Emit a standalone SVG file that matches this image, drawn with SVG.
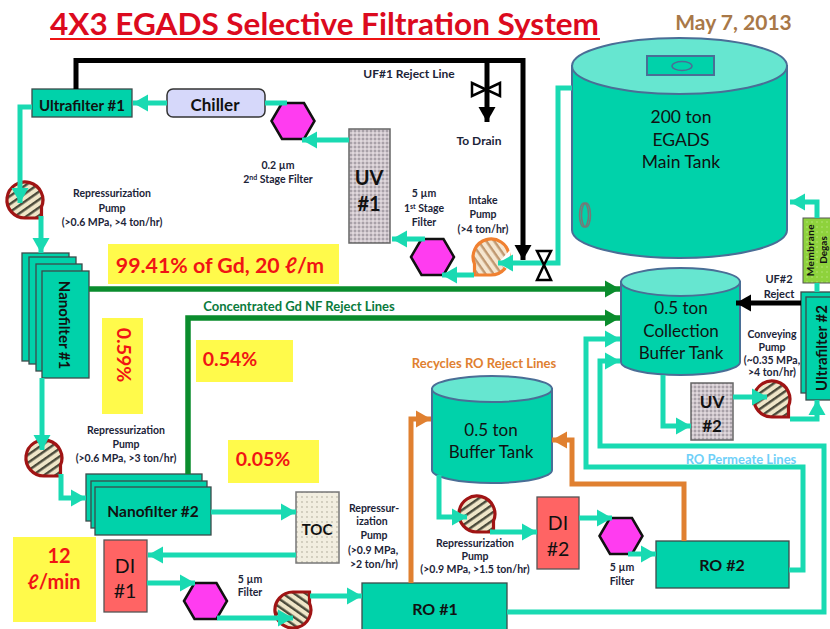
<svg xmlns="http://www.w3.org/2000/svg" width="830" height="629" viewBox="0 0 830 629">
<style>
text{font-family:Lato,"Liberation Sans",sans-serif;text-anchor:middle;fill:#111}
.b{font-weight:700}
.s{font-size:10.5px;font-weight:700;fill:#1c2438}
.m{font-size:12px;font-weight:700;fill:#1c2438}
.r{font-weight:700;fill:#f01414;font-size:19.5px}
.t{font-size:17px}
.box{fill:#00d2aa;stroke:#3c4a4a;stroke-width:1.3}
.tank{fill:#00d2aa;stroke:#4a6e96;stroke-width:2}
.top{fill:#66e6d0;stroke:#4a6e96;stroke-width:2}
.y{fill:#fffa4b}
.p{fill:none;stroke:#19dab2;stroke-width:5}
.g{fill:none;stroke:#0a8c2d;stroke-width:5.5}
.o{fill:none;stroke:#e08030;stroke-width:5}
.k{fill:none;stroke:#000;stroke-width:5}
.hex{fill:#ff3cf0;stroke:#111;stroke-width:2.5}
.uv{fill:url(#dots);stroke:#666;stroke-width:1.5}
.toc{fill:url(#dots2);stroke:#777;stroke-width:1.5}
.pump{fill:url(#hatch);stroke:#a01414;stroke-width:3.2}
.pumpo{fill:url(#hatcho);stroke:#f08030;stroke-width:3.2}
.di{fill:#ff6464;stroke:#555;stroke-width:1.3}
.valve{fill:#fff;stroke:#000;stroke-width:2.5}
</style>
<defs>
<pattern id="dots" width="4" height="4" patternUnits="userSpaceOnUse"><rect width="4" height="4" fill="#cfc6cc"/><circle cx="1" cy="1" r=".8" fill="#f4f0f2"/><circle cx="3" cy="3" r=".8" fill="#77727a"/></pattern>
<pattern id="dots2" width="5" height="5" patternUnits="userSpaceOnUse"><rect width="5" height="5" fill="#f2eee0"/><circle cx="2" cy="2" r=".9" fill="#c4c0b0"/></pattern>
<pattern id="hatch" width="6.5" height="6.5" patternUnits="userSpaceOnUse" patternTransform="rotate(-35)"><rect width="6.5" height="6.5" fill="#efe6c8"/><rect width="6.5" height="2.4" fill="#4a4a3a"/></pattern>
<pattern id="hatcho" width="6.5" height="6.5" patternUnits="userSpaceOnUse" patternTransform="rotate(-55)"><rect width="6.5" height="6.5" fill="#f5e6d0"/><rect width="6.5" height="2.4" fill="#c09870"/></pattern>
<pattern id="green" width="5" height="5" patternUnits="userSpaceOnUse"><rect width="5" height="5" fill="#8ed23c"/><circle cx="2" cy="2" r=".8" fill="#b4e67a"/></pattern>
<marker id="aT" markerUnits="userSpaceOnUse" markerWidth="16" markerHeight="18" refX="15" refY="9" orient="auto"><path d="M0 0.5L15 9L0 17.5Z" fill="#19dab2"/></marker>
<marker id="aG" markerUnits="userSpaceOnUse" markerWidth="16" markerHeight="18" refX="15" refY="9" orient="auto"><path d="M0 0.5L15 9L0 17.5Z" fill="#0a8c2d"/></marker>
<marker id="aO" markerUnits="userSpaceOnUse" markerWidth="16" markerHeight="18" refX="15" refY="9" orient="auto"><path d="M0 0.5L15 9L0 17.5Z" fill="#e08030"/></marker>
<marker id="aK" markerUnits="userSpaceOnUse" markerWidth="16" markerHeight="18" refX="15" refY="9" orient="auto"><path d="M0 0.5L15 9L0 17.5Z" fill="#000"/></marker>
<path id="pumpShape" d="M0 18A18 18 0 1 1 16.5 7L16.5 18Z"/>
<path id="hexShape" d="M-21.5 0L-11 -18H11L21.5 0L11 18H-11Z"/>
</defs>
<rect width="830" height="629" fill="#fff"/>
<g id="title">
<text x="50" y="35" class="b" style="font-size:31px;fill:#dc0a1e;text-anchor:start" textLength="549" lengthAdjust="spacingAndGlyphs">4X3 EGADS Selective Filtration System</text>
<rect x="50" y="38" width="550" height="2" fill="#ee1414"/>
<text x="733.500" y="30" class="b" style="font-size:21px;fill:#a87848">May 7, 2013</text>
</g>
<g id="labels-yellow">
<rect class="y" x="108" y="244" width="231" height="40"/><text class="r" x="220" y="273" style="font-size:21.3px">99.41% of Gd, 20 ℓ/m</text>
<rect class="y" x="102" y="318" width="41" height="96"/><text class="r" transform="translate(117,355) rotate(90)">0.59%</text>
<rect class="y" x="196" y="340" width="97" height="42"/><text class="r" x="230" y="366">0.54%</text>
<rect class="y" x="228" y="440" width="91" height="43"/><text class="r" x="263" y="466">0.05%</text>
<rect class="y" x="13" y="537" width="83" height="85"/><text class="r" x="59" y="563" style="font-size:20px">12</text><text class="r" x="54" y="589" style="font-size:20px">ℓ/min</text>
</g>
<g id="main-tank">
<path class="tank" d="M572 66V230A107.500 28 0 0 0 787 230V66Z"/>
<ellipse class="top" cx="679.500" cy="66" rx="107.500" ry="28"/>
<rect x="647" y="56" width="67" height="19" fill="#00d2aa" stroke="#4a6e96" stroke-width="2"/>
<ellipse cx="682" cy="66" rx="10" ry="4.500" fill="none" stroke="#4a6e96" stroke-width="1.500"/>
<ellipse cx="586" cy="215" rx="4.500" ry="12" fill="none" stroke="#777" stroke-width="1.500"/>
<ellipse cx="584" cy="215" rx="4.500" ry="12" fill="none" stroke="#777" stroke-width="1.500"/>
<text x="681" y="123" class="t" style="font-size:17.500px">200 ton</text><text x="681" y="146" class="t" style="font-size:17.500px">EGADS</text><text x="681" y="168" class="t" style="font-size:17.500px">Main Tank</text>
</g>
<g id="collection-tank">
<path class="tank" d="M621 282V362A59.500 13 0 0 0 740 362V282Z"/>
<ellipse class="top" cx="680.500" cy="282" rx="59.500" ry="14"/>
<text x="681" y="314" class="t">0.5 ton</text><text x="681" y="337" class="t">Collection</text><text x="681" y="359" class="t">Buffer Tank</text>
</g>
<g id="buffer-tank">
<path class="tank" d="M432 389V470A60 13 0 0 0 552 470V389Z"/>
<ellipse class="top" cx="492" cy="389" rx="60" ry="13"/>
<text x="491" y="436" class="t">0.5 ton</text><text x="491" y="458" class="t">Buffer Tank</text>
</g>
<g id="uf1"><rect class="box" x="32" y="89" width="100" height="28"/><text class="b" x="82" y="111" font-size="15">Ultrafilter #1</text></g>
<g id="chiller"><rect x="167" y="89" width="98" height="28" rx="6" fill="#d6d8fa" stroke="#333" stroke-width="1.500"/><text class="b" x="215" y="111" font-size="17">Chiller</text></g>
<g id="filter02"><use href="#hexShape" class="hex" transform="translate(293,121)"/><text class="s" x="278" y="169">0.2 µm</text><text class="s" x="278" y="183">2<tspan font-size="7" dy="-3">nd</tspan><tspan dy="3"> Stage Filter</tspan></text></g>
<g id="uv1"><rect class="uv" x="349" y="129" width="41" height="114"/><text class="b" x="369" y="185" font-size="20">UV</text><text class="b" x="369" y="211" font-size="20">#1</text></g>
<g id="filter5a"><use href="#hexShape" class="hex" transform="translate(432.500,257)"/><text class="s" x="424" y="197">5 µm</text><text class="s" x="424" y="212">1<tspan font-size="7" dy="-3">st</tspan><tspan dy="3"> Stage</tspan></text><text class="s" x="424" y="226">Filter</text></g>
<g id="intake"><use href="#pumpShape" class="pumpo" transform="translate(491,257) scale(-1,1)"/><path d="M510 250L498 263L510 271Z" fill="#fff"/><text class="s" x="483" y="204">Intake</text><text class="s" x="483" y="218">Pump</text><text class="s" x="483" y="233">(&gt;4 ton/hr)</text></g>
<g id="labels"><text class="m" x="409" y="78">UF#1 Reject Line</text>
<text class="m" x="479" y="145">To Drain</text>
<text class="s" x="112" y="197">Repressurization</text><text class="s" x="112" y="212">Pump</text><text class="s" x="112" y="226">(&gt;0.6 MPa, &gt;4 ton/hr)</text>
<text x="299" y="311" class="b" style="font-size:13px;fill:#0a7a3c">Concentrated Gd NF Reject Lines</text>
<text x="484" y="368" class="b" style="font-size:13px;fill:#e08030">Recycles RO Reject Lines</text>
<text x="741" y="464" class="b" style="font-size:13px;fill:#6fd0f8">RO Permeate Lines</text>
<text class="s" x="126" y="434">Repressurization</text><text class="s" x="126" y="448">Pump</text><text class="s" x="126" y="462">(&gt;0.6 MPa, &gt;3 ton/hr)</text>
<text class="s" x="374" y="512">Repressur-</text><text class="s" x="372" y="525">ization</text><text class="s" x="374" y="539">Pump</text><text class="s" x="373" y="554">(&gt;0.9 MPa,</text><text class="s" x="374" y="568">&gt;2 ton/hr)</text>
<text class="s" x="250" y="583">5 µm</text><text class="s" x="250" y="596">Filter</text>
<text class="s" x="475" y="547">Repressurization</text><text class="s" x="475" y="560">Pump</text><text class="s" x="475" y="573">(&gt;0.9 MPa, &gt;1.5 ton/hr)</text>
<text class="s" x="622" y="571">5 µm</text><text class="s" x="622" y="585">Filter</text>
<text class="s" x="772" y="338">Conveying</text><text class="s" x="772" y="351">Pump</text><text class="s" x="772" y="364">(~0.35 MPa,</text><text class="s" x="772" y="376">&gt;4 ton/hr)</text>
<text class="m" x="779" y="283" style="font-size:11px">UF#2</text><text class="m" x="779" y="298" style="font-size:11px">Reject</text></g>
<g id="pump1"><use href="#pumpShape" class="pump" transform="translate(25,200)"/></g>
<g id="nf1"><rect class="box" x="22" y="253" width="47" height="108"/><rect class="box" x="29" y="257" width="47" height="107"/><rect class="box" x="36" y="264" width="46" height="107"/><rect class="box" x="42" y="271" width="47" height="107"/><text class="b" transform="translate(59,325) rotate(90)" font-size="15">Nanofilter #1</text></g>
<g id="pump2"><use href="#pumpShape" class="pump" transform="translate(44,458)"/></g>
<g id="nf2"><rect class="box" x="86" y="474" width="116" height="47"/><rect class="box" x="91" y="481" width="116" height="47"/><rect class="box" x="95" y="487" width="116" height="48"/><text class="b" x="153" y="517" font-size="15.500">Nanofilter #2</text></g>
<g id="toc"><rect class="toc" x="296" y="492" width="43" height="71"/><text class="b" x="317" y="535" font-size="15">TOC</text></g>
<g id="di1"><rect class="di" x="104" y="540" width="43" height="72"/><text x="125" y="573" font-size="19.500">DI</text><text x="125" y="598" font-size="19.500">#1</text></g>
<g id="filter5b"><use href="#hexShape" class="hex" transform="translate(205.500,601)"/></g>
<g id="pump3"><use href="#pumpShape" class="pump" transform="translate(293,610) scale(1,-1)"/></g>
<g id="ro1"><rect class="box" x="362" y="583" width="145" height="47"/><text class="b" x="435" y="615" font-size="16">RO #1</text></g>
<g id="pump4"><use href="#pumpShape" class="pump" transform="translate(477,514)"/></g>
<g id="di2"><rect class="di" x="537" y="497" width="42" height="72"/><text x="558" y="530" font-size="19.500">DI</text><text x="558" y="556" font-size="19.500">#2</text></g>
<g id="filter5c"><use href="#hexShape" class="hex" transform="translate(621,536)"/></g>
<g id="ro2"><rect class="box" x="656" y="541" width="133" height="47"/><text class="b" x="722" y="571" font-size="16">RO #2</text></g>
<g id="uv2"><rect class="uv" x="691" y="383" width="42" height="57"/><text class="b" x="712" y="408" font-size="17">UV</text><text class="b" x="712" y="432" font-size="17">#2</text></g>
<g id="pump5"><use href="#pumpShape" class="pump" transform="translate(772,399)"/></g>
<g id="uf2"><rect class="box" x="801" y="292" width="30" height="101"/><rect class="box" x="806" y="297" width="26" height="103"/><text class="b" transform="translate(827,348) rotate(-90)" font-size="15">Ultrafilter #2</text></g>
<g id="degas"><rect x="803" y="218" width="28" height="65" fill="url(#green)" stroke="#555"/><text class="b" transform="translate(814,250) rotate(-90)" font-size="10" letter-spacing=".5">Membrane</text><text class="b" transform="translate(827,250) rotate(-90)" font-size="10">Degas</text></g>
<g id="connectors">
<path class="p" d="M572 88H558V263H498" marker-end="url(#aT)"/>
<path class="p" d="M474 275H442" marker-end="url(#aT)"/>
<path class="p" d="M425 239H392" marker-end="url(#aT)"/>
<path class="p" d="M349 140H302" marker-end="url(#aT)"/>
<path class="p" d="M265 103H287"/>
<path class="p" d="M167 103H133" marker-end="url(#aT)"/>
<path class="p" d="M32 107H20V203" marker-end="url(#aT)"/>
<path class="p" d="M41 216V253" marker-end="url(#aT)"/>
<path class="p" d="M42 378V450" marker-end="url(#aT)"/>
<path class="p" d="M61 474V498H86" marker-end="url(#aT)"/>
<path class="p" d="M211 512H296" marker-end="url(#aT)"/>
<path class="p" d="M296 555H148" marker-end="url(#aT)"/>
<path class="p" d="M147 583H195" marker-end="url(#aT)"/>
<path class="p" d="M217 618H293" marker-end="url(#aT)"/>
<path class="p" d="M310 596H362" marker-end="url(#aT)"/>
<path class="p" d="M507 612H824V446H600V361H620" marker-end="url(#aT)"/>
<path class="p" d="M789 570H803V467H586V339H620" marker-end="url(#aT)"/>
<path class="p" d="M439 475V517H467" marker-end="url(#aT)"/>
<path class="p" d="M490 532H537" marker-end="url(#aT)"/>
<path class="p" d="M579 518H612" marker-end="url(#aT)"/>
<path class="p" d="M628 554H656" marker-end="url(#aT)"/>
<path class="p" d="M663 375V426H691" marker-end="url(#aT)"/>
<path class="p" d="M733 397H767" marker-end="url(#aT)"/>
<path class="p" d="M790 419H817V400" marker-end="url(#aT)"/>
<path class="p" d="M817 292V283"/>
<path class="p" d="M817 218V202H790" marker-end="url(#aT)"/>
<path class="k" d="M76 89V60.500H523V260" marker-end="url(#aK)"/>
<path class="k" d="M487 60.500V122" marker-end="url(#aK)"/>
<path class="k" d="M801 303H736" marker-end="url(#aK)"/>
<path class="g" d="M89 289H620" marker-end="url(#aG)"/>
<path class="g" d="M188 474V318H620" marker-end="url(#aG)"/>
<path class="o" d="M411 583V419H431" marker-end="url(#aO)"/>
<path class="o" d="M684 541V484H572V440H552" marker-end="url(#aO)"/>
</g>
<g id="valve-drain"><path class="valve" d="M472 83L486 89.500L472 96ZM500 83L486 89.500L500 96Z"/></g>
<g id="valve-main"><path class="valve" d="M537 251L544 265L551 251ZM537 280L544 265L551 280Z"/></g>
</svg>
